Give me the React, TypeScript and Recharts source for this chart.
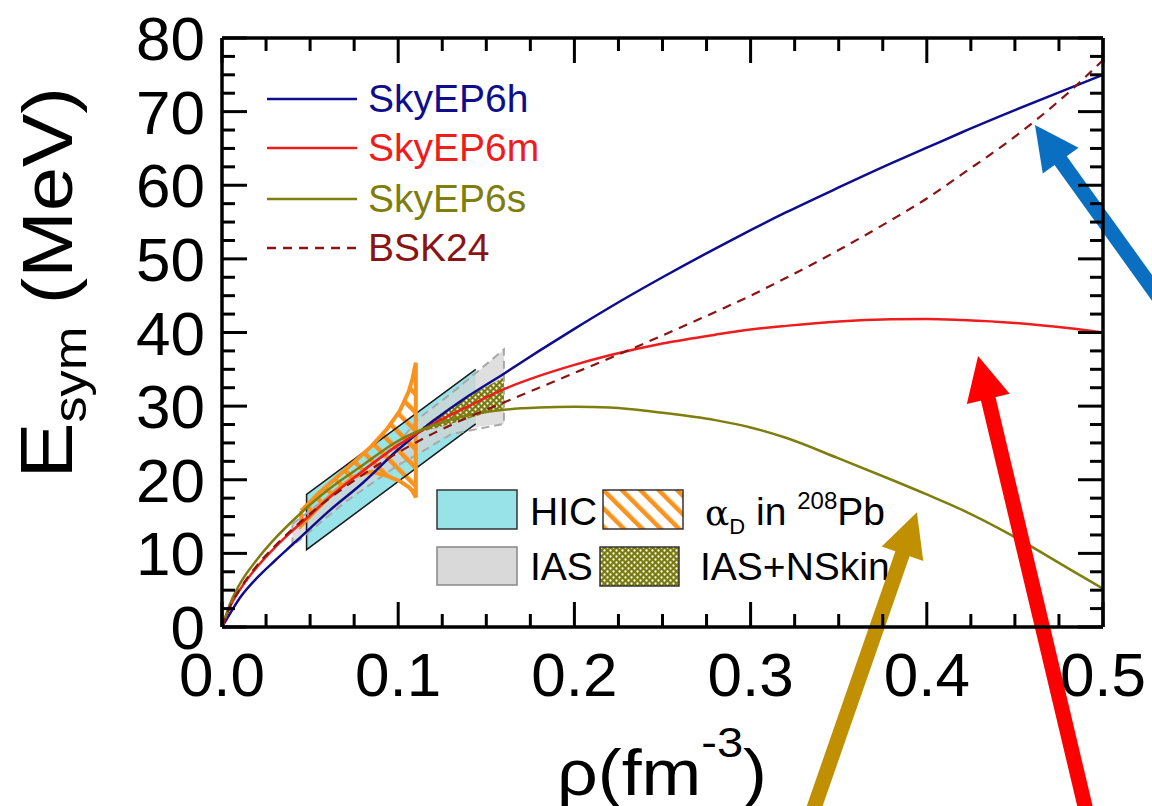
import React from "react";
import {
  ComposedChart,
  Line,
  Area,
  XAxis,
  YAxis,
  ReferenceLine,
} from "recharts";

// density grid (fm^-3) and symmetry energy curves (MeV)
const rho = [0, 0.005, 0.01, 0.02, 0.03, 0.04, 0.05, 0.06, 0.08, 0.1, 0.12, 0.14, 0.16, 0.18, 0.2, 0.22, 0.25, 0.28, 0.3, 0.32, 0.35, 0.38, 0.4, 0.42, 0.45, 0.48, 0.5];
const skyEP6h = [0, 2.0, 3.9, 6.7, 9.0, 11.2, 13.4, 15.6, 19.6, 24.1, 28.0, 31.4, 34.4, 37.5, 40.5, 43.4, 47.5, 51.4, 53.9, 56.3, 59.7, 63.0, 65.1, 67.2, 70.2, 73.1, 75.0];
const skyEP6m = [0, 3.0, 5.0, 8.2, 10.8, 13.1, 15.2, 17.4, 21.2, 24.7, 27.6, 30.0, 32.3, 34.1, 35.6, 36.9, 38.5, 39.7, 40.4, 40.9, 41.5, 41.8, 41.85, 41.7, 41.3, 40.6, 40.0];
const skyEP6s = [0, 3.4, 5.8, 9.2, 12.0, 14.4, 16.6, 18.6, 22.0, 25.3, 27.4, 28.8, 29.5, 29.8, 29.9, 29.8, 29.1, 28.1, 27.1, 25.7, 22.9, 20.0, 18.0, 15.9, 12.2, 8.0, 5.2];
const bsk24 = [0, 3.0, 5.1, 8.4, 11.0, 13.3, 15.4, 17.3, 20.7, 23.7, 26.3, 28.5, 30.5, 32.5, 34.5, 36.5, 39.6, 42.8, 45.0, 47.4, 51.2, 55.3, 58.2, 61.5, 66.6, 72.5, 77.0];

// constraint bands: density points with lower / upper limits
const hicRho = [0.048, 0.144];
const hicLow = [10.5, 27.6];
const hicHigh = [18.0, 35.0];

const iasRho = [0.04, 0.07, 0.1, 0.112, 0.13, 0.16];
const iasLow = [11.0, 17.0, 22.0, 23.6, 26.2, 27.6];
const iasHigh = [14.0, 19.5, 25.0, 28.4, 31.7, 37.7];

const skinRho = [0.113, 0.13, 0.145, 0.16];
const skinLow = [26.5, 27.6, 28.7, 29.7];
const skinHigh = [27.0, 29.9, 32.0, 33.9];

const alphaRho = [0.045, 0.055, 0.065, 0.075, 0.085, 0.094, 0.101, 0.106, 0.108, 0.11];
const alphaLow = [13.8, 16.3, 18.6, 20.4, 21.1, 20.5, 19.8, 19.0, 18.5, 17.6];
const alphaHigh = [15.8, 18.2, 20.3, 22.4, 24.6, 27.0, 29.4, 32.0, 33.6, 35.9];

// axis ticks
const xTicks = [0, 0.025, 0.05, 0.075, 0.1, 0.125, 0.15, 0.175, 0.2, 0.225, 0.25, 0.275, 0.3, 0.325, 0.35, 0.375, 0.4, 0.425, 0.45, 0.475, 0.5];
const yTicks = [0, 2.5, 5, 7.5, 10, 12.5, 15, 17.5, 20, 22.5, 25, 27.5, 30, 32.5, 35, 37.5, 40, 42.5, 45, 47.5, 50, 52.5, 55, 57.5, 60, 62.5, 65, 67.5, 70, 72.5, 75, 77.5, 80];

const FONT = "'Liberation Sans', Arial, Helvetica, sans-serif";

const curves = [
  { name: "SkyEP6h", values: skyEP6h, color: "#0D0D8E", dash: undefined },
  { name: "SkyEP6m", values: skyEP6m, color: "#EE1C1C", dash: undefined },
  { name: "SkyEP6s", values: skyEP6s, color: "#7E7E0E", dash: undefined },
  { name: "BSK24", values: bsk24, color: "#8A1414", dash: "9 7" },
];

// annotation arrows: [tail, tip] in data coordinates
const arrows = [
  { color: "#0B6FC1", tail: { x: 0.549, y: 39.0 }, tip: { x: 0.4614, y: 68.2 } },
  { color: "#FF0000", tail: { x: 0.4943, y: -28.9 }, tip: { x: 0.4291, y: 36.8 } },
  { color: "#C09000", tail: { x: 0.3297, y: -28.9 }, tip: { x: 0.3944, y: 15.6 } },
];

const toLine = (xs: number[], ys: number[]) => xs.map((x, i) => ({ x, y: ys[i] }));
const toBand = (xs: number[], lo: number[], hi: number[]) =>
  xs.map((x, i) => ({ x, band: [lo[i], hi[i]] }));
const toOutline = (xs: number[], lo: number[], hi: number[]) => [
  ...xs.map((x, i) => ({ x, y: hi[i] })),
  ...xs.map((x, i) => ({ x, y: lo[i] })).reverse(),
  { x: xs[0], y: hi[0] },
];
// HIC box: upper edge, left side, lower edge (right side hidden under IAS)
const hicOutline = [
  { x: hicRho[1], y: hicHigh[1] },
  { x: hicRho[0], y: hicHigh[0] },
  { x: hicRho[0], y: hicLow[0] },
  { x: hicRho[1], y: hicLow[1] },
];

const isMajor = (v: number, step: number) => Math.abs(v / step - Math.round(v / step)) < 1e-6;

const BottomTick = ({ x, y, payload }: any) => {
  const v = payload.value;
  const major = isMajor(v, 0.1);
  return (
    <g>
      <line x1={x} y1={y} x2={x} y2={y - (major ? 25 : 13)} stroke="#000" strokeWidth={3} />
      {major && (
        <text x={x} y={y + 69} textAnchor="middle" fontSize={62} fontFamily={FONT} fill="#000">
          {v.toFixed(1)}
        </text>
      )}
    </g>
  );
};

const TopTick = ({ x, y, payload }: any) => {
  const major = isMajor(payload.value, 0.1);
  return <line x1={x} y1={y} x2={x} y2={y + (major ? 25 : 13)} stroke="#000" strokeWidth={3} />;
};

const LeftTick = ({ x, y, payload }: any) => {
  const v = payload.value;
  const major = isMajor(v, 10);
  return (
    <g>
      <line x1={x} y1={y} x2={x + (major ? 25 : 13)} y2={y} stroke="#000" strokeWidth={3} />
      {major && (
        <text x={x - 17} y={y + 22} textAnchor="end" fontSize={62} fontFamily={FONT} fill="#000">
          {v}
        </text>
      )}
    </g>
  );
};

const RightTick = ({ x, y, payload }: any) => {
  const major = isMajor(payload.value, 10);
  return <line x1={x} y1={y} x2={x - (major ? 25 : 13)} y2={y} stroke="#000" strokeWidth={3} />;
};

const makeArrow = (color: string) => (props: any) => {
  const { x1, y1, x2, y2 } = props;
  const dx = x2 - x1;
  const dy = y2 - y1;
  const len = Math.hypot(dx, dy) || 1;
  const ux = dx / len;
  const uy = dy / len;
  const px = -uy;
  const py = ux;
  const head = 44;
  const half = 22;
  const bx = x2 - ux * head;
  const by = y2 - uy * head;
  return (
    <g>
      <line x1={x1} y1={y1} x2={bx + ux * 4} y2={by + uy * 4} stroke={color} strokeWidth={15} />
      <polygon
        points={`${x2},${y2} ${bx + px * half},${by + py * half} ${bx - px * half},${by - py * half}`}
        fill={color}
      />
    </g>
  );
};

const YLabel = () => (
  <text
    transform="translate(72,283) rotate(-90) scale(1.14,1)"
    textAnchor="middle"
    fontFamily={FONT}
    fill="#000"
  >
    <tspan fontSize={74}>E</tspan>
    <tspan fontSize={46} dy={14}>sym</tspan>
    <tspan fontSize={70} dy={-14}> (MeV)</tspan>
  </text>
);

const XLabel = () => (
  <text
    transform="translate(662,795) scale(1.12,1)"
    textAnchor="middle"
    fontFamily={FONT}
    fill="#000"
  >
    <tspan fontSize={64}>ρ(fm</tspan>
    <tspan fontSize={42} dy={-38}>-3</tspan>
    <tspan fontSize={64} dy={38}>)</tspan>
  </text>
);

function Overlay() {
  const legendY = [99, 148, 199, 248];
  return (
    <svg
      width={1152}
      height={806}
      style={{ position: "absolute", left: 0, top: 0, pointerEvents: "none" }}
    >
      <defs>
        <pattern id="hatchOrange" width={13} height={13} patternUnits="userSpaceOnUse" patternTransform="rotate(-45)">
          <rect x={0} y={0} width={4.5} height={13} fill="#F7931E" />
        </pattern>
        <pattern id="dotsOlive" width={6} height={6} patternUnits="userSpaceOnUse">
          <rect x={0} y={0} width={6} height={6} fill="#7A7A12" />
          <circle cx={1.5} cy={1.5} r={1.15} fill="#FFFFF0" />
          <circle cx={4.5} cy={4.5} r={1.15} fill="#FFFFF0" />
        </pattern>
      </defs>
      {curves.map((c, i) => (
        <g key={c.name}>
          <line x1={267} x2={357} y1={legendY[i]} y2={legendY[i]} stroke={c.color} strokeWidth={2.5} strokeDasharray={c.dash} />
          <text x={368} y={legendY[i] + 13} fontSize={39} fontFamily={FONT} fill={c.color}>
            {c.name}
          </text>
        </g>
      ))}
      <rect x={437} y={490} width={80} height={39} fill="#98E3E8" stroke="#333" strokeWidth={1.5} />
      <text x={530} y={525} fontSize={39} fontFamily={FONT} fill="#000">HIC</text>
      <rect x={603} y={490} width={80} height={39} fill="#fff" />
      <rect x={603} y={490} width={80} height={39} fill="url(#hatchOrange)" stroke="#333" strokeWidth={1.5} />
      <text x={705} y={525} fontSize={39} fontFamily={FONT} fill="#000">
        <tspan fontFamily="'DejaVu Serif', serif" fontSize={36}>α</tspan>
        <tspan fontSize={22} dy={9}>D</tspan>
        <tspan dy={-9}> in </tspan>
        <tspan fontSize={24} dy={-16}>208</tspan>
        <tspan dy={16}>Pb</tspan>
      </text>
      <rect x={437} y={547} width={80} height={38} fill="#D9D9D9" stroke="#888" strokeWidth={1.5} />
      <text x={530} y={580} fontSize={39} fontFamily={FONT} fill="#000">IAS</text>
      <rect x={600} y={547} width={79} height={39} fill="url(#dotsOlive)" stroke="#333" strokeWidth={1.5} />
      <text x={700} y={580} fontSize={39} fontFamily={FONT} fill="#000">IAS+NSkin</text>
    </svg>
  );
}

export default function App() {
  return (
    <div style={{ position: "absolute", left: 0, top: 0, width: 1152, height: 806, background: "#fff", overflow: "hidden" }}>
      <Overlay />
      <div style={{ position: "absolute", left: 0, top: 0 }}>
        <ComposedChart width={1152} height={806} margin={{ top: 37, right: 48, bottom: 79, left: 122 }}>
          <XAxis
            xAxisId={0}
            dataKey="x"
            type="number"
            domain={[0, 0.5]}
            ticks={xTicks}
            interval={0}
            allowDataOverflow
            height={100}
            tickSize={0}
            tickMargin={0}
            tick={<BottomTick />}
            axisLine={{ stroke: "#000", strokeWidth: 3.5 }}
            tickLine={false}
            label={<XLabel />}
          />
          <XAxis
            xAxisId="top"
            orientation="top"
            dataKey="x"
            type="number"
            domain={[0, 0.5]}
            ticks={xTicks}
            interval={0}
            allowDataOverflow
            height={1}
            tickSize={0}
            tickMargin={0}
            tick={<TopTick />}
            axisLine={{ stroke: "#000", strokeWidth: 3.5 }}
            tickLine={false}
          />
          <YAxis
            yAxisId={0}
            type="number"
            domain={[0, 80]}
            ticks={yTicks}
            interval={0}
            allowDataOverflow
            width={100}
            tickSize={0}
            tickMargin={0}
            tick={<LeftTick />}
            axisLine={{ stroke: "#000", strokeWidth: 3.5 }}
            tickLine={false}
            label={<YLabel />}
          />
          <YAxis
            yAxisId="right"
            orientation="right"
            type="number"
            domain={[0, 80]}
            ticks={yTicks}
            interval={0}
            allowDataOverflow
            width={1}
            tickSize={0}
            tickMargin={0}
            tick={<RightTick />}
            axisLine={{ stroke: "#000", strokeWidth: 3.5 }}
            tickLine={false}
          />

          <Area data={toBand(hicRho, hicLow, hicHigh)} dataKey="band" type="linear" fill="#98E3E8" fillOpacity={1} stroke="none" isAnimationActive={false} dot={false} activeDot={false} />
          <Area data={toBand(iasRho, iasLow, iasHigh)} dataKey="band" type="monotone" fill="#D4D4D4" fillOpacity={0.75} stroke="none" isAnimationActive={false} dot={false} activeDot={false} />
          <Area data={toBand(skinRho, skinLow, skinHigh)} dataKey="band" type="monotone" fill="url(#dotsOlive)" fillOpacity={1} stroke="none" isAnimationActive={false} dot={false} activeDot={false} />
          <Area data={toBand(alphaRho, alphaLow, alphaHigh)} dataKey="band" type="monotone" fill="url(#hatchOrange)" fillOpacity={1} stroke="none" isAnimationActive={false} dot={false} activeDot={false} />

          <Line data={hicOutline} dataKey="y" type="linear" stroke="#1A1A1A" strokeWidth={1.5} dot={false} activeDot={false} isAnimationActive={false} />
          <Line data={toOutline(iasRho, iasLow, iasHigh)} dataKey="y" type="linear" stroke="#A8A8A8" strokeWidth={2} strokeDasharray="8 5" dot={false} activeDot={false} isAnimationActive={false} />
          <Line data={toOutline(alphaRho, alphaLow, alphaHigh)} dataKey="y" type="linear" stroke="#F7931E" strokeWidth={4} dot={false} activeDot={false} isAnimationActive={false} />

          {curves.map((c) => (
            <Line
              key={c.name}
              name={c.name}
              data={toLine(rho, c.values)}
              dataKey="y"
              type="monotone"
              stroke={c.color}
              strokeWidth={c.dash ? 2.2 : 2.5}
              strokeDasharray={c.dash}
              dot={false}
              activeDot={false}
              isAnimationActive={false}
            />
          ))}

          {arrows.map((a, i) => (
            <ReferenceLine
              key={i}
              segment={[a.tail, a.tip]}
              ifOverflow="visible"
              shape={makeArrow(a.color)}
            />
          ))}
        </ComposedChart>
      </div>
    </div>
  );
}
